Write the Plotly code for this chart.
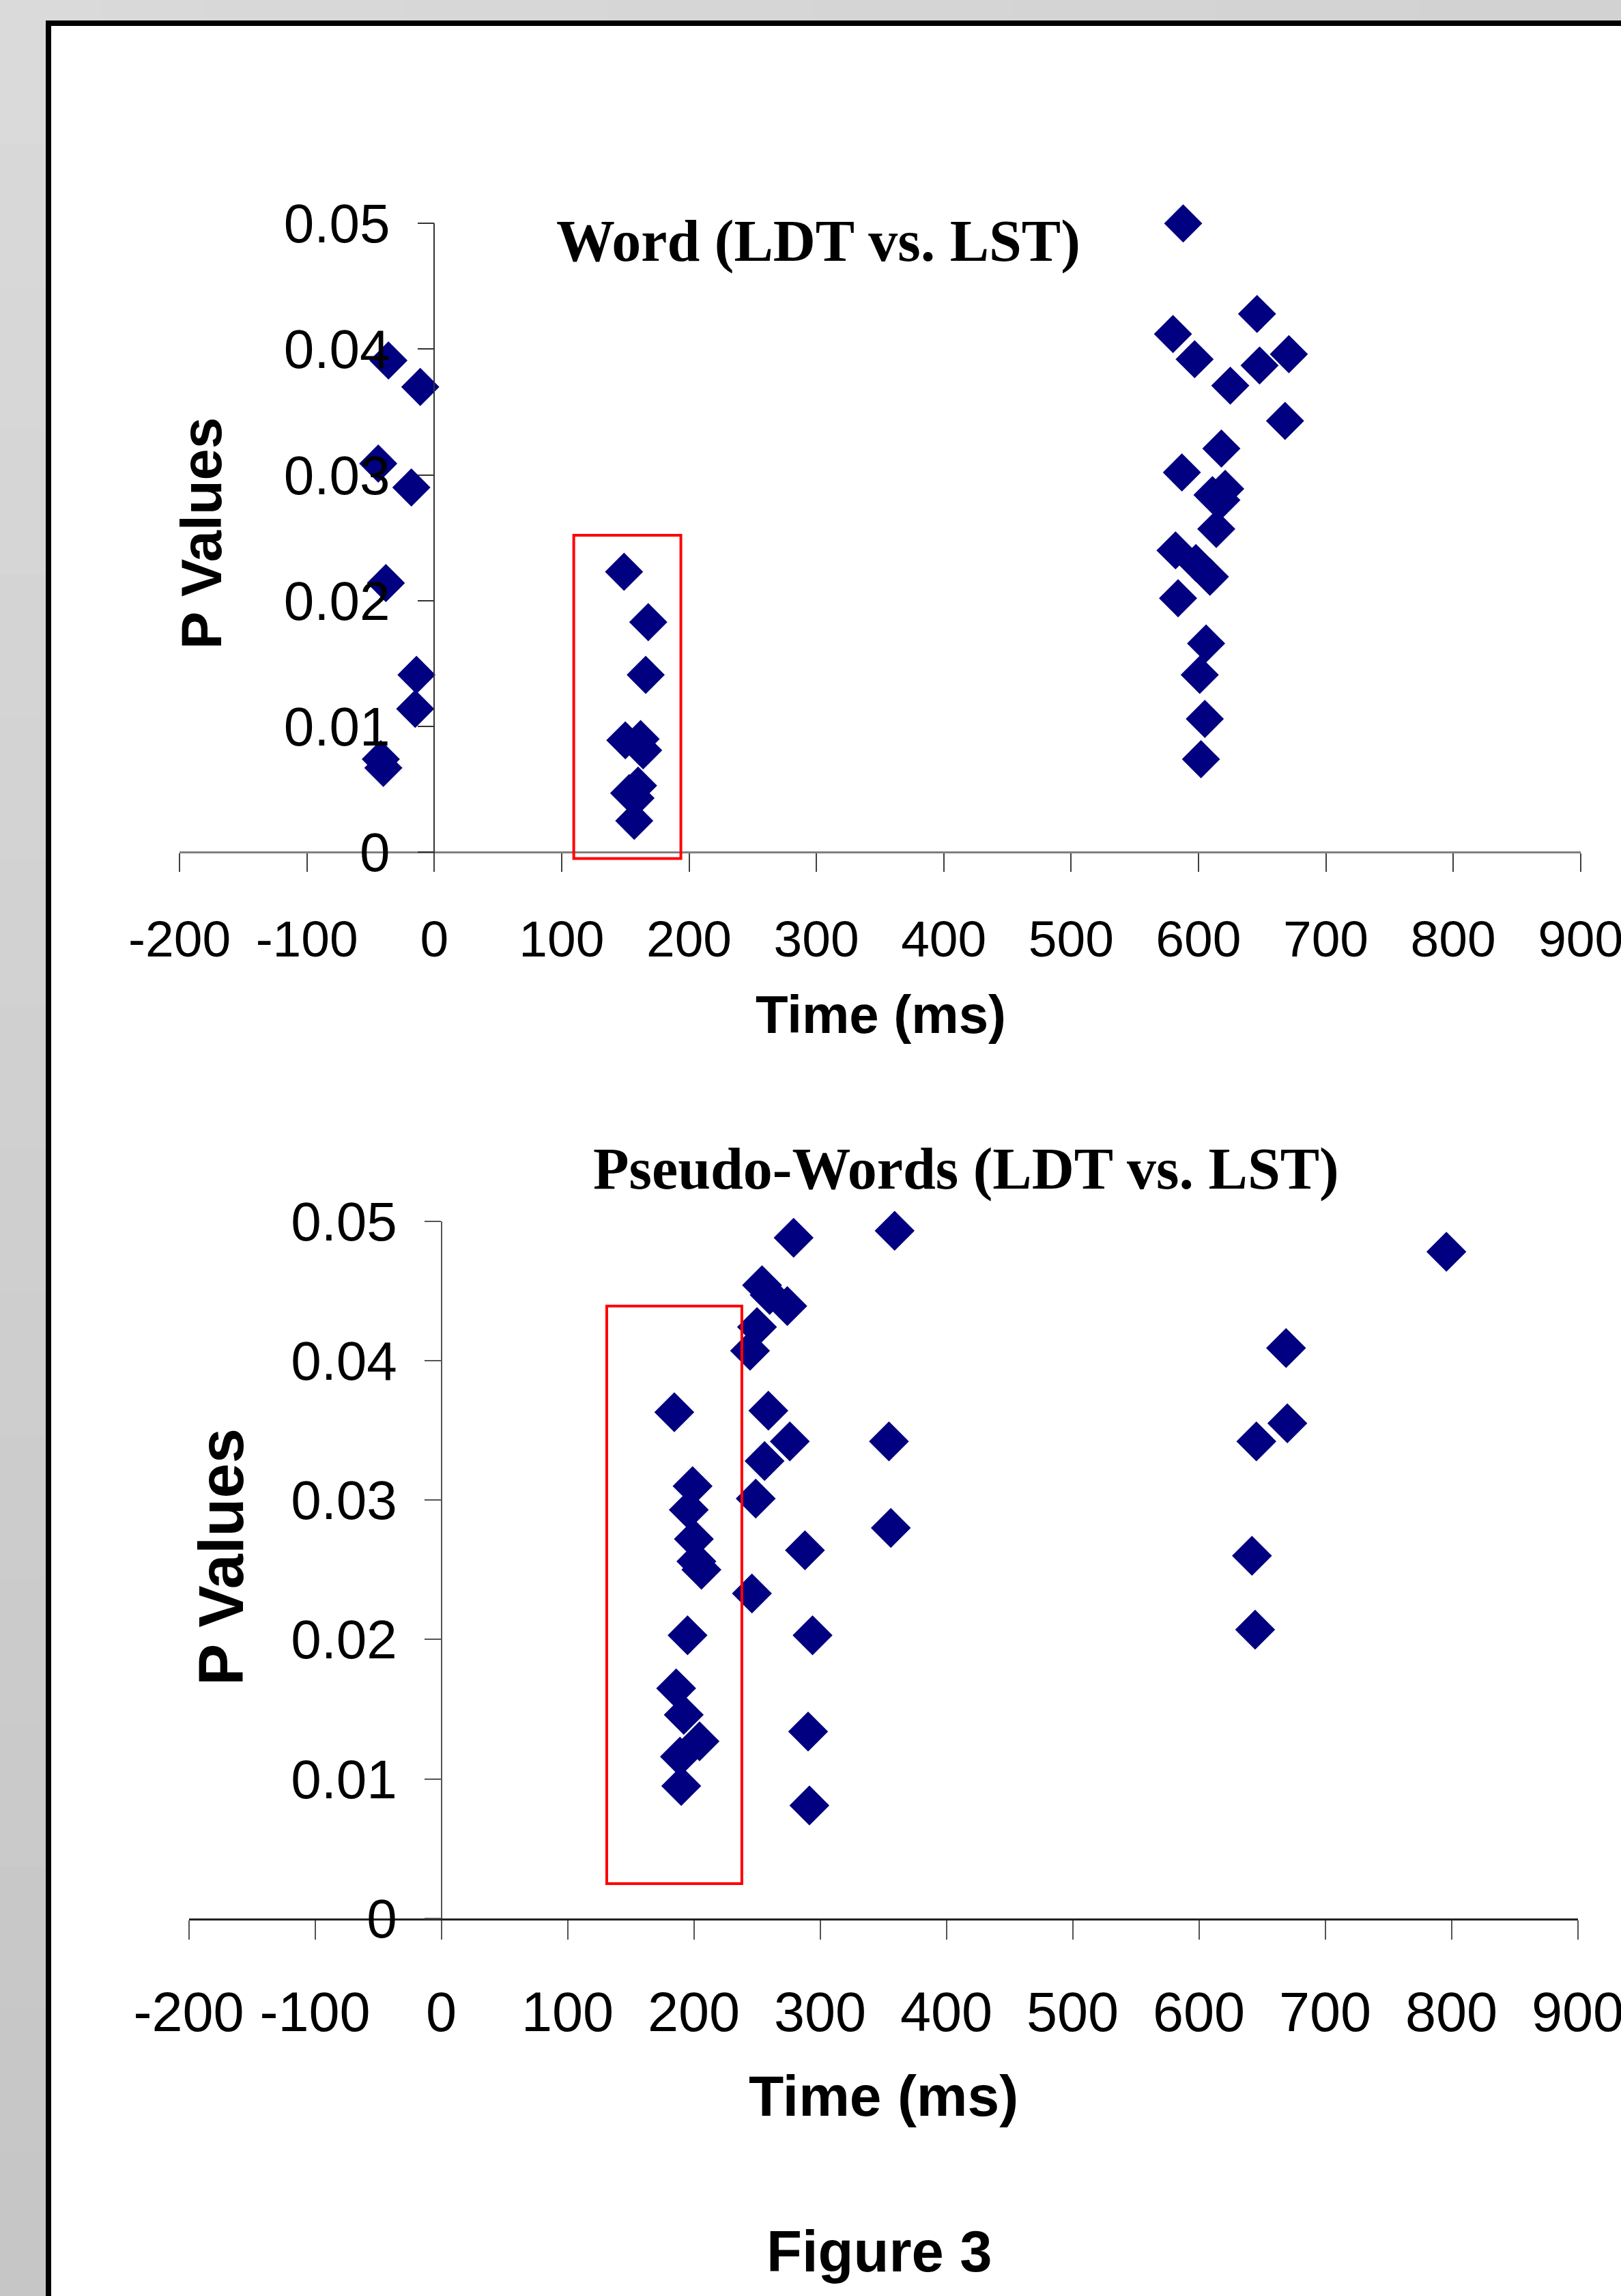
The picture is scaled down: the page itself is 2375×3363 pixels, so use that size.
import plotly.graph_objects as go

W, H = 2375, 3363

# ---------------- data ----------------
# Top panel: Word (LDT vs. LST)
word_time = [-36, -11, -44, -18, -38, -14, -15, -42, -40,
             149, 168, 166, 150, 162, 164, 160, 153, 158, 157,
             588, 646, 580, 597, 671, 648, 625, 668, 618, 587, 621,
             611, 618, 614, 582, 598, 609, 584, 606, 601, 605, 602]
word_p = [0.0391, 0.0370, 0.0309, 0.0290, 0.0214, 0.0141, 0.0114, 0.0074, 0.0067,
          0.0223, 0.0183, 0.0141, 0.0089, 0.0090, 0.0081, 0.0053, 0.0047, 0.0043, 0.0025,
          0.0500, 0.0428, 0.0412, 0.0392, 0.0396, 0.0387, 0.0371, 0.0343, 0.0321, 0.0302, 0.0289,
          0.0284, 0.0280, 0.0257, 0.0240, 0.0230, 0.0219, 0.0202, 0.0166, 0.0141, 0.0106, 0.0074]

# Bottom panel: Pseudo-Words (LDT vs. LST)
pseudo_time = [184.5, 199, 196, 200, 202, 206, 195, 186, 192, 204.5, 189, 190,
               279, 254, 260, 274, 250, 244.5, 259, 276, 256, 249, 246, 288, 294, 290.5, 291.5,
               359, 354.5, 356,
               669, 670, 645.5, 642, 644.5,
               796]
pseudo_p = [0.0363, 0.0310, 0.0293, 0.0272, 0.0256, 0.0250, 0.0203, 0.0165, 0.0146, 0.0127, 0.0116, 0.0095,
            0.0488, 0.0454, 0.0447, 0.0439, 0.0424, 0.0407, 0.0364, 0.0342, 0.0328, 0.0301, 0.0233, 0.0264, 0.0203, 0.0134, 0.0081,
            0.0493, 0.0342, 0.0280,
            0.0409, 0.0355, 0.0342, 0.0260, 0.0207,
            0.0478]

# highlighted windows (red boxes)
word_box_time = [109.5, 193.6]
word_box_p = [-0.0005, 0.0252]
pseudo_box_time = [131, 238]
pseudo_box_p = [0.0025, 0.0439]

x_tickvals = [-200, -100, 0, 100, 200, 300, 400, 500, 600, 700, 800, 900]
x_ticktext = ["-200", "-100", "0", "100", "200", "300", "400", "500", "600", "700", "800", "900"]
y_tickvals = [0, 0.01, 0.02, 0.03, 0.04, 0.05]
y_ticktext = ["0", "0.01", "0.02", "0.03", "0.04", "0.05"]

title_top = "Word (LDT vs. LST)"
title_bottom = "Pseudo-Words (LDT vs. LST)"
x_title = "Time (ms)"
y_title = "P Values"
caption = "Figure 3"

# ---------------- style ----------------
NAVY = "#000080"
SANS = "Liberation Sans, Arial"
SERIF = "Liberation Serif, Times New Roman"

def px(xp):
    return xp / W

def py(yp):
    return 1 - yp / H

fig = go.Figure()

fig.add_trace(go.Scatter(x=word_time, y=word_p, mode="markers", xaxis="x", yaxis="y",
                         marker=dict(symbol="diamond", size=43, color=NAVY, line=dict(width=0)),
                         cliponaxis=False, showlegend=False, hoverinfo="x+y"))
fig.add_trace(go.Scatter(x=pseudo_time, y=pseudo_p, mode="markers", xaxis="x2", yaxis="y2",
                         marker=dict(symbol="diamond", size=45, color=NAVY, line=dict(width=0)),
                         cliponaxis=False, showlegend=False, hoverinfo="x+y"))

# geometry (pixels)
top_x0, top_x1 = 263.1, 2315.7
top_y_zero, top_y_max = 1248.3, 327.2
top_yrange = [-0.0015, 0.05]
top_y_bottom = top_y_zero + (top_y_zero - top_y_max) / 0.05 * (-top_yrange[0])
bot_x0, bot_x1 = 276.6, 2311.6
bot_y_zero, bot_y_max = 2810.0, 1788.5
xr = [-200, 900]

def zero_pos(a, b):
    return a + (b - a) * (0 - xr[0]) / (xr[1] - xr[0])

common_x = dict(range=xr, tickmode="array", tickvals=x_tickvals, ticktext=x_ticktext,
                showgrid=False, zeroline=False, showline=True, ticks="outside",
                tickangle=0, automargin=False, fixedrange=True, ticklabeloverflow="allow")
common_y = dict(tickmode="array", tickvals=y_tickvals, ticktext=y_ticktext,
                showgrid=False, zeroline=False, showline=True, ticks="outside",
                automargin=False, fixedrange=True, ticklabeloverflow="allow")

fig.update_layout(
    template="none",
    width=W, height=H, autosize=False,
    margin=dict(l=0, r=0, t=0, b=0, pad=0, autoexpand=False),
    paper_bgcolor="#d2d2d2", plot_bgcolor="white",
    showlegend=False,
    xaxis=dict(common_x, domain=[px(top_x0), px(top_x1)], anchor="free", position=py(top_y_zero),
               linecolor="#808080", linewidth=3, tickcolor="#404040", tickwidth=1.5, ticklen=27,
               tickfont=dict(family=SANS, size=75, color="black"), ticklabelstandoff=34),
    yaxis=dict(common_y, range=top_yrange, domain=[py(top_y_bottom), py(top_y_max)],
               anchor="free", position=px(zero_pos(top_x0, top_x1)),
               linecolor="#333333", linewidth=1.5, tickcolor="#333333", tickwidth=1.5, ticklen=24,
               tickfont=dict(family=SANS, size=80, color="black"), ticklabelstandoff=24),
    xaxis2=dict(common_x, domain=[px(bot_x0), px(bot_x1)], anchor="y2",
                linecolor="#222222", linewidth=2.5, tickcolor="#555555", tickwidth=1.5, ticklen=28,
                tickfont=dict(family=SANS, size=81, color="black"), ticklabelstandoff=37),
    yaxis2=dict(common_y, range=[0, 0.05], domain=[py(bot_y_zero), py(bot_y_max)],
                anchor="free", position=px(zero_pos(bot_x0, bot_x1)),
                linecolor="#555555", linewidth=1.5, tickcolor="#555555", tickwidth=1.5, ticklen=24,
                tickfont=dict(family=SANS, size=80, color="black"), ticklabelstandoff=24),
)

shapes = []
# background gradient bands (left and top strips)
n = 16
for i in range(n):
    g = int(218 - (218 - 198) * i / (n - 1))
    shapes.append(dict(type="rect", xref="paper", yref="paper", layer="below",
                       x0=0, x1=px(72), y0=max(0, py(H * (i + 1) / n + 2)), y1=py(H * i / n),
                       fillcolor=f"rgb({g},{g},{g})", line=dict(width=0)))
for i in range(n):
    g = int(218 - (218 - 210) * i / (n - 1))
    shapes.append(dict(type="rect", xref="paper", yref="paper", layer="below",
                       x0=px(W * i / n), x1=min(1, px(W * (i + 1) / n + 2)), y0=py(34), y1=1,
                       fillcolor=f"rgb({g},{g},{g})", line=dict(width=0)))
# white page with black frame (right and bottom sides run off the page)
shapes.append(dict(type="rect", xref="paper", yref="paper", layer="below",
                   x0=px(71), x1=px(W + 20), y0=py(H + 20), y1=py(34),
                   fillcolor="white", line=dict(color="black", width=8)))
# red highlight windows
shapes.append(dict(type="rect", xref="x", yref="y", layer="above",
                   x0=word_box_time[0], x1=word_box_time[1], y0=word_box_p[0], y1=word_box_p[1],
                   line=dict(color="#ff0000", width=4), fillcolor="rgba(0,0,0,0)"))
shapes.append(dict(type="rect", xref="x2", yref="y2", layer="above",
                   x0=pseudo_box_time[0], x1=pseudo_box_time[1], y0=pseudo_box_p[0], y1=pseudo_box_p[1],
                   line=dict(color="#ff0000", width=4), fillcolor="rgba(0,0,0,0)"))
fig.update_layout(shapes=shapes)

ann = []
ann.append(dict(text=f"<b>{title_top}</b>", x=px(1199), y=py(353), xref="paper", yref="paper",
                xanchor="center", yanchor="middle", showarrow=False,
                font=dict(family=SERIF, size=86, color="black")))
ann.append(dict(text=f"<b>{title_bottom}</b>", x=px(1415), y=py(1712), xref="paper", yref="paper",
                xanchor="center", yanchor="middle", showarrow=False,
                font=dict(family=SERIF, size=86, color="black")))
ann.append(dict(text=f"<b>{x_title}</b>", x=px(1290), y=py(1486), xref="paper", yref="paper",
                xanchor="center", yanchor="middle", showarrow=False,
                font=dict(family=SANS, size=78, color="black")))
ann.append(dict(text=f"<b>{x_title}</b>", x=px(1294), y=py(3070), xref="paper", yref="paper",
                xanchor="center", yanchor="middle", showarrow=False,
                font=dict(family=SANS, size=84, color="black")))
ann.append(dict(text=f"<b>{y_title}</b>", x=px(296), y=py(781), xref="paper", yref="paper",
                xanchor="center", yanchor="middle", showarrow=False, textangle=-90,
                font=dict(family=SANS, size=83, color="black")))
ann.append(dict(text=f"<b>{y_title}</b>", x=px(324), y=py(2281), xref="paper", yref="paper",
                xanchor="center", yanchor="middle", showarrow=False, textangle=-90,
                font=dict(family=SANS, size=92, color="black")))
ann.append(dict(text=f"<b>{caption}</b>", x=px(1288), y=py(3297), xref="paper", yref="paper",
                xanchor="center", yanchor="middle", showarrow=False,
                font=dict(family=SANS, size=85, color="black")))
fig.update_layout(annotations=ann)

fig.write_html("out.html", include_plotlyjs=True, config={"displayModeBar": False},
               post_script="document.body.style.margin='0';document.body.style.overflow='hidden';")
